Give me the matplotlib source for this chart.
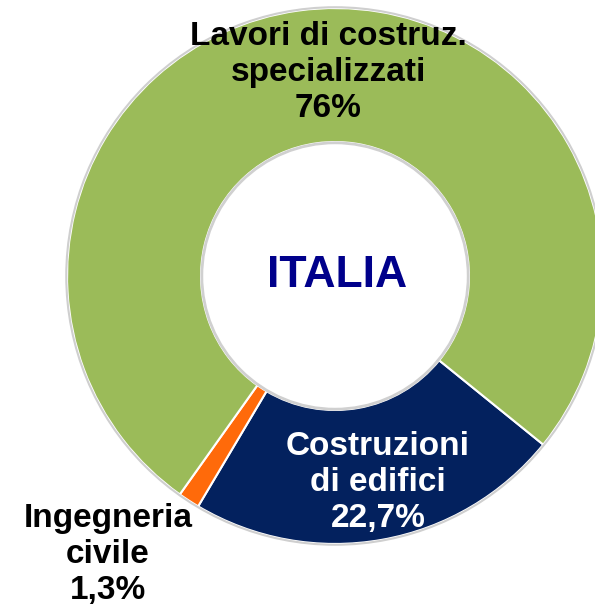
"""
Donut chart: ripartizione imprese costruzioni, ITALIA
"""
import matplotlib
matplotlib.use('Agg')
import matplotlib.pyplot as plt
from matplotlib.patches import Circle

labels = ['Costruzioni\ndi edifici', 'Ingegneria\ncivile', 'Lavori di costruz.\nspecializzati']
values = [22.7, 1.3, 76.0]
value_text = ['22,7%', '1,3%', '76%']
colors = ['#03215E', '#FF6A0A', '#9BBB59']
text_colors = ['white', 'black', 'black']
# label positions in data units (outer radius = 1)
label_pos = [(0.16, -0.77), (-0.847, -1.04), (-0.026, 0.76)]

plt.rcParams['font.family'] = ['Liberation Sans', 'DejaVu Sans']

fig = plt.figure(figsize=(5.95, 6.08), dpi=100)
ax = fig.add_axes([0, 0, 1, 1])

wedges, _ = ax.pie(values, colors=colors, startangle=-39, counterclock=False,
                   radius=1.0, wedgeprops=dict(width=0.5, edgecolor='white', linewidth=1.5))

# soft grey rim like the bevel in the original
ax.add_patch(Circle((0, 0), 1.003, fill=False, edgecolor='#cfcfcf', linewidth=1.5, zorder=3))
ax.add_patch(Circle((0, 0), 0.497, fill=False, edgecolor='#d0d0d0', linewidth=2, zorder=3))

for lab, val, pos, tc in zip(labels, value_text, label_pos, text_colors):
    ax.text(pos[0], pos[1], f'{lab}\n{val}', ha='center', va='center', fontsize=24,
            fontweight='bold', color=tc, linespacing=1.22, zorder=5)

ax.text(0.007, 0.0, 'ITALIA', ha='center', va='center', fontsize=32,
        fontweight='bold', color='#00008B', zorder=5)

ax.set_aspect('equal')
ax.set_xlim(-1.25, 0.970)
ax.set_ylim(-1.239, 1.030)
ax.axis('off')

fig.savefig('out.png', dpi=100)
